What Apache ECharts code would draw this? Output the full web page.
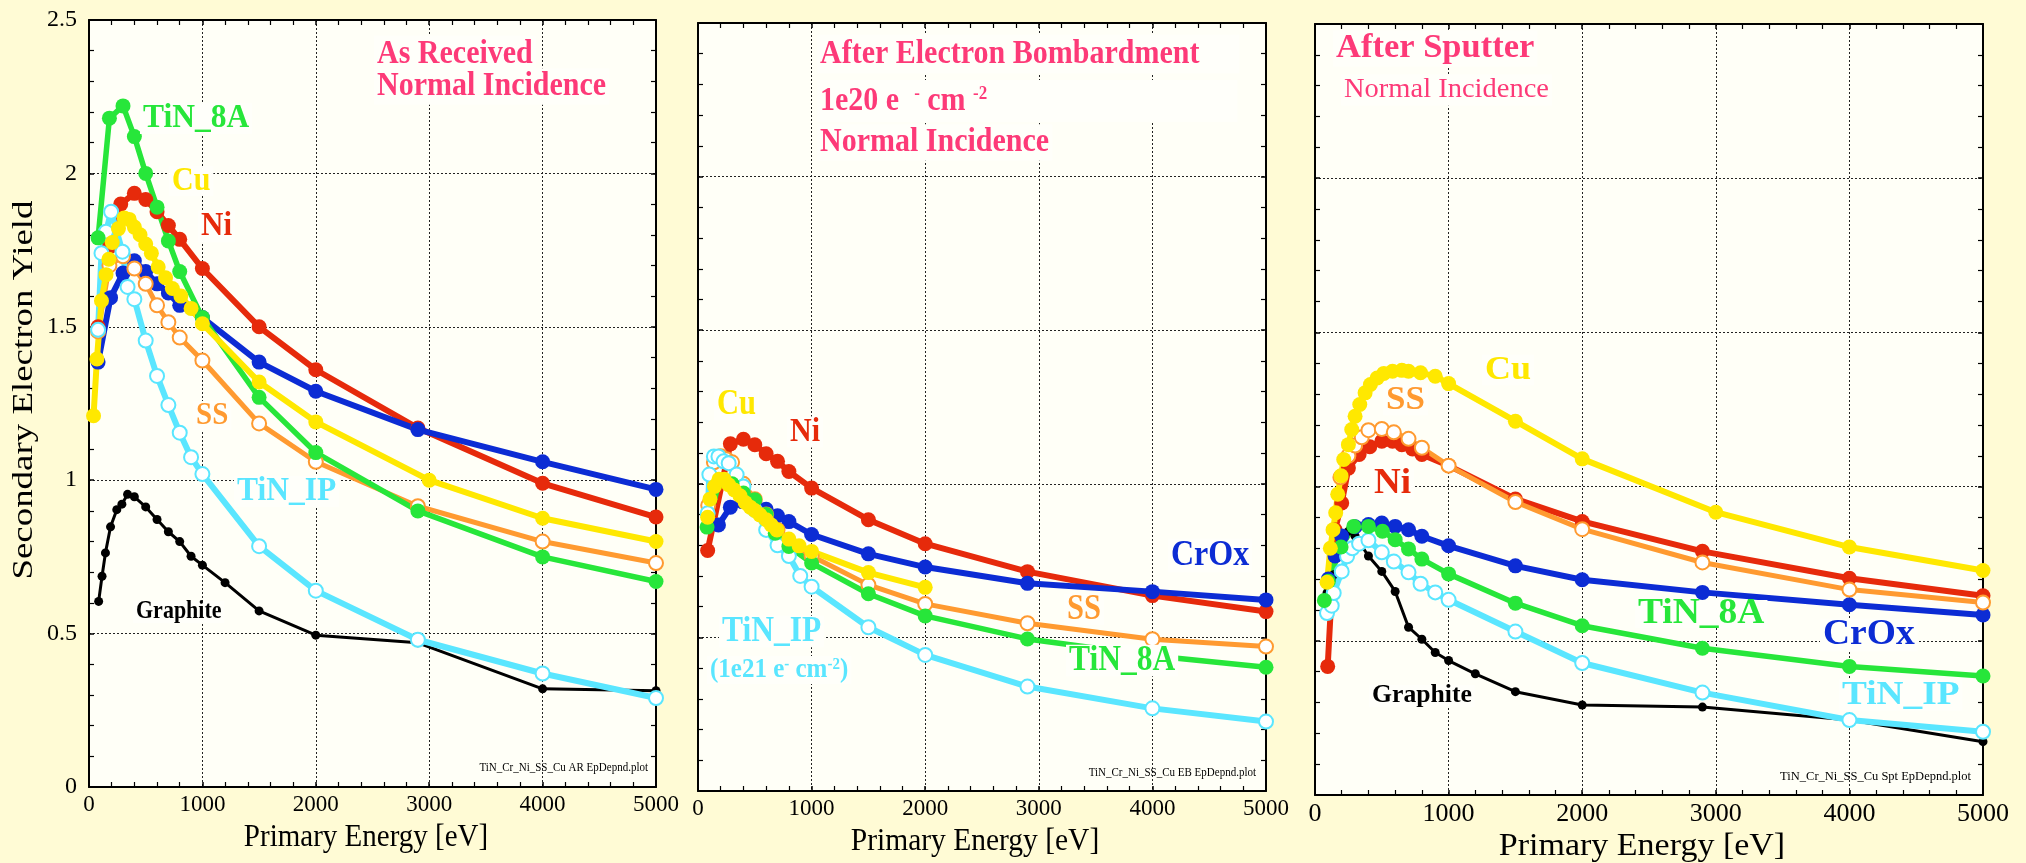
<!DOCTYPE html>
<html><head><meta charset="utf-8">
<script src="https://cdn.jsdelivr.net/npm/echarts@6/dist/echarts.min.js"></script>
<style>html,body{margin:0;padding:0;background:#fffbd5;}#c{width:2026px;height:863px;}</style>
</head><body><div id="c"></div>
<script>
// ---------- axis ticks ----------
const xTicks = [0, 1000, 2000, 3000, 4000, 5000];
const yTicks = [0, 0.5, 1, 1.5, 2, 2.5];

// ---------- Panel 1 : As Received ----------
const ar_TiN8A_E = [80,180,300,400,500,600,700,800,1000,1500,2000,2900,4000,5000];
const ar_TiN8A_Y = [1.79,2.18,2.22,2.12,2.00,1.89,1.78,1.68,1.53,1.27,1.09,0.90,0.75,0.67];
const ar_Ni_E = [80,180,280,400,500,600,700,800,1000,1500,2000,2900,4000,5000];
const ar_Ni_Y = [1.50,1.76,1.90,1.935,1.915,1.875,1.83,1.785,1.69,1.50,1.36,1.17,0.99,0.88];
const ar_Cu_E = [40,70,110,150,175,205,260,310,355,400,450,500,550,610,675,735,810,900,1000,1500,2000,3000,4000,5000];
const ar_Cu_Y = [1.21,1.395,1.585,1.67,1.72,1.775,1.82,1.855,1.85,1.825,1.80,1.77,1.74,1.695,1.66,1.625,1.60,1.56,1.51,1.32,1.19,1.00,0.876,0.80];
const ar_CrOx_E = [80,190,300,400,500,600,700,800,1000,1500,2000,2900,4000,5000];
const ar_CrOx_Y = [1.385,1.595,1.675,1.715,1.68,1.64,1.61,1.57,1.53,1.385,1.29,1.165,1.06,0.97];
const ar_SS_E = [80,180,300,400,500,600,700,800,1000,1500,2000,2900,4000,5000];
const ar_SS_Y = [1.485,1.70,1.73,1.69,1.64,1.57,1.515,1.465,1.39,1.185,1.06,0.915,0.80,0.73];
const ar_TiNIP_E = [80,110,150,195,295,340,400,500,600,700,800,900,1000,1500,2000,2900,4000,5000];
const ar_TiNIP_Y = [1.49,1.74,1.81,1.875,1.745,1.63,1.59,1.455,1.34,1.245,1.155,1.075,1.02,0.785,0.64,0.48,0.37,0.29];
const ar_Gr_E = [85,115,145,190,245,290,340,400,500,600,700,800,900,1000,1200,1500,2000,2900,4000,5000];
const ar_Gr_Y = [0.605,0.687,0.763,0.848,0.904,0.922,0.954,0.946,0.913,0.872,0.832,0.80,0.752,0.723,0.666,0.574,0.495,0.47,0.32,0.314];

// ---------- Panel 2 : After Electron Bombardment ----------
const eb_Ni_E = [85,285,400,500,600,700,800,1000,1500,2000,2900,4000,5000];
const eb_Ni_Y = [0.783,1.13,1.145,1.127,1.098,1.073,1.04,0.986,0.883,0.805,0.714,0.636,0.584];
const eb_CrOx_E = [180,285,390,500,600,700,800,1000,1500,2000,2900,4000,5000];
const eb_CrOx_Y = [0.866,0.924,0.942,0.939,0.917,0.896,0.877,0.835,0.772,0.729,0.676,0.649,0.622];
const eb_Cu_E = [85,105,145,185,230,270,320,370,415,460,500,545,600,645,695,800,890,1000,1500,2000];
const eb_Cu_Y = [0.891,0.95,0.991,1.015,1.015,0.997,0.98,0.961,0.939,0.924,0.913,0.899,0.883,0.866,0.85,0.82,0.798,0.78,0.711,0.663];
const eb_TiN8A_E = [80,190,300,400,500,600,680,800,1000,1500,2000,2900,4000,5000];
const eb_TiN8A_Y = [0.859,1.01,1.00,0.97,0.948,0.90,0.839,0.796,0.742,0.642,0.57,0.495,0.44,0.403];
const eb_SS_E = [90,140,200,250,300,400,500,600,700,800,1000,1500,2000,2900,4000,5000];
const eb_SS_Y = [0.93,1.07,1.09,1.08,1.07,1.00,0.95,0.90,0.85,0.81,0.765,0.671,0.609,0.546,0.494,0.47];
const eb_TiNIP_E = [85,100,140,180,225,270,340,400,500,600,700,800,900,1000,1500,2000,2900,4000,5000];
const eb_TiNIP_Y = [0.904,1.03,1.089,1.089,1.073,1.067,1.03,0.991,0.915,0.85,0.80,0.765,0.70,0.665,0.533,0.443,0.34,0.269,0.226];

// ---------- Panel 3 : After Sputter ----------
const sp_Cu_E = [90,115,135,155,170,195,215,250,275,300,335,375,415,465,515,580,650,700,790,900,1000,1500,2000,3000,4000,5000];
const sp_Cu_Y = [0.69,0.80,0.86,0.915,0.975,1.035,1.088,1.136,1.185,1.228,1.266,1.304,1.331,1.352,1.367,1.374,1.377,1.374,1.369,1.358,1.334,1.212,1.09,0.917,0.804,0.728];
const sp_Ni_E = [95,150,200,250,330,410,500,580,650,730,800,1000,1500,2000,2900,4000,5000];
const sp_Ni_Y = [0.417,0.86,0.947,1.06,1.104,1.129,1.147,1.147,1.136,1.122,1.104,1.068,0.96,0.887,0.79,0.703,0.646];
const sp_SS_E = [190,250,300,350,400,500,590,700,800,1000,1500,2000,2900,4000,5000];
const sp_SS_Y = [1.03,1.10,1.133,1.16,1.183,1.187,1.176,1.155,1.126,1.068,0.95,0.862,0.754,0.666,0.624];
const sp_CrOx_E = [100,150,200,300,400,500,600,700,800,1000,1500,2000,2900,4000,5000];
const sp_CrOx_Y = [0.70,0.775,0.84,0.87,0.877,0.882,0.871,0.86,0.839,0.808,0.743,0.698,0.657,0.617,0.584];
const sp_TiN8A_E = [70,100,195,290,400,505,600,700,800,1000,1500,2000,2900,4000,5000];
const sp_TiN8A_Y = [0.631,0.693,0.804,0.871,0.871,0.855,0.828,0.798,0.765,0.717,0.622,0.549,0.476,0.417,0.386];
const sp_TiNIP_E = [90,125,140,200,240,280,330,400,500,590,700,790,900,1000,1500,2000,2900,4000,5000];
const sp_TiNIP_Y = [0.59,0.614,0.655,0.725,0.774,0.80,0.815,0.826,0.787,0.757,0.722,0.685,0.657,0.633,0.53,0.428,0.332,0.243,0.205];
const sp_Gr_E = [90,140,155,200,250,300,400,500,600,700,800,900,1000,1200,1500,2000,2900,4000,5000];
const sp_Gr_Y = [0.655,0.714,0.776,0.837,0.855,0.84,0.775,0.725,0.66,0.544,0.505,0.462,0.436,0.393,0.335,0.292,0.285,0.243,0.173];

// ---------- styling ----------
const FONT = 'Liberation Serif';
const STY = {
  Graphite:{color:'#000000', lw:3, size:9, hollow:false},
  Ni:{color:'#e62a0b', lw:6, size:15, hollow:false},
  CrOx:{color:'#0c2cd4', lw:6, size:15, hollow:false},
  SS:{color:'#ff9a30', lw:5, size:14, hollow:true},
  TiN_IP:{color:'#5ae6ff', lw:6, size:14, hollow:true},
  TiN_8A:{color:'#27e63a', lw:5.5, size:15, hollow:false},
  Cu:{color:'#ffe800', lw:6, size:15, hollow:false}
};
const ORDER = ['Graphite','Ni','CrOx','SS','TiN_IP','TiN_8A','Cu'];

const panelData = [
  {Graphite:[ar_Gr_E,ar_Gr_Y], Ni:[ar_Ni_E,ar_Ni_Y], CrOx:[ar_CrOx_E,ar_CrOx_Y], SS:[ar_SS_E,ar_SS_Y], TiN_IP:[ar_TiNIP_E,ar_TiNIP_Y], TiN_8A:[ar_TiN8A_E,ar_TiN8A_Y], Cu:[ar_Cu_E,ar_Cu_Y]},
  {Ni:[eb_Ni_E,eb_Ni_Y], CrOx:[eb_CrOx_E,eb_CrOx_Y], SS:[eb_SS_E,eb_SS_Y], TiN_IP:[eb_TiNIP_E,eb_TiNIP_Y], TiN_8A:[eb_TiN8A_E,eb_TiN8A_Y], Cu:[eb_Cu_E,eb_Cu_Y]},
  {Graphite:[sp_Gr_E,sp_Gr_Y], Ni:[sp_Ni_E,sp_Ni_Y], CrOx:[sp_CrOx_E,sp_CrOx_Y], SS:[sp_SS_E,sp_SS_Y], TiN_IP:[sp_TiNIP_E,sp_TiNIP_Y], TiN_8A:[sp_TiN8A_E,sp_TiN8A_Y], Cu:[sp_Cu_E,sp_Cu_Y]}
];

const layout = [
  {left:89, top:20, width:567, height:767, yLab:true, xFont:23},
  {left:698, top:23, width:568, height:768, yLab:false, xFont:23},
  {left:1315, top:24, width:668, height:771, yLab:false, xFont:26}
];

const grids=[], xAxes=[], yAxes=[], series=[];
const tickStyle = {show:true, inside:true, length:5, lineStyle:{color:'#000', width:1.5}};
const minor = {show:true, splitNumber:5, length:5, lineStyle:{color:'#000', width:1.2}};
layout.forEach((L,gi)=>{
  grids.push({left:L.left, top:L.top, width:L.width, height:L.height, show:true, backgroundColor:'#fffff7', borderWidth:0, containLabel:false});
  const xBase = {type:'value', gridIndex:gi, min:xTicks[0], max:xTicks[xTicks.length-1], interval:xTicks[1]-xTicks[0],
    axisLine:{show:true, onZero:false, lineStyle:{color:'#000', width:2}}, axisTick:tickStyle, minorTick:minor};
  xAxes.push(Object.assign({}, xBase, {position:'bottom',
    axisLabel:{show:true, color:'#000', fontFamily:FONT, fontSize:L.xFont, margin:6, formatter:(v)=>String(v)},
    splitLine:{show:true, lineStyle:{color:'#222', width:1, type:[2,2]}}}));
  xAxes.push(Object.assign({}, xBase, {position:'top', axisLabel:{show:false}, splitLine:{show:false}}));
  const yBase = {type:'value', gridIndex:gi, min:yTicks[0], max:yTicks[yTicks.length-1], interval:yTicks[1]-yTicks[0],
    axisLine:{show:true, onZero:false, lineStyle:{color:'#000', width:2}}, axisTick:tickStyle, minorTick:minor};
  yAxes.push(Object.assign({}, yBase, {position:'left',
    axisLabel:{show:L.yLab, color:'#000', fontFamily:FONT, fontSize:24, margin:12, formatter:(v)=>String(v)},
    splitLine:{show:true, lineStyle:{color:'#222', width:1, type:[2,2]}}}));
  yAxes.push(Object.assign({}, yBase, {position:'right', axisLabel:{show:false}, splitLine:{show:false}}));
  ORDER.forEach(name=>{
    const d = panelData[gi][name];
    if(!d) return;
    const s = STY[name];
    series.push({
      type:'line', name:name+'_'+gi, xAxisIndex:gi*2, yAxisIndex:gi*2,
      data:d[0].map((e,i)=>[e,d[1][i]]),
      symbol:'circle', symbolSize:s.size, showSymbol:true, showAllSymbol:true,
      lineStyle:{color:s.color, width:s.lw},
      itemStyle: s.hollow ? {color:'#ffffff', borderColor:s.color, borderWidth:2} : {color:s.color, borderWidth:0},
      emphasis:{disabled:true}, silent:true, animation:false, clip:false
    });
  });
});

// ---------- texts ----------
const PINK = '#fd3a78';
function lab(x, y, text, color, size, o){
  o = o || {};
  return {type:'text', x:x, y:y, z:100, scaleX:o.sx||1, scaleY:o.sy||1, rotation:o.rot||0, silent:true,
    style:{text:text, fill:color, fontFamily:FONT, fontSize:size, fontWeight:o.w||'bold',
      lineHeight: o.lh || Math.round(size*0.9),
      align:o.align||'left', verticalAlign:'middle',
      backgroundColor:o.bg===undefined?'#fffffa':o.bg, padding:o.pad||[0,3], rich:o.rich}};
}
const graphics = [
  // axis titles
  lab(24, 390, 'Secondary Electron Yield', '#000', 30, {w:'normal', rot:Math.PI/2, sx:1.23, align:'center', bg:'transparent'}),
  lab(366, 838, 'Primary Energy [eV]', '#000', 29, {w:'normal', align:'center', sy:1.08, bg:'transparent'}),
  lab(975, 842, 'Primary Energy [eV]', '#000', 29.5, {w:'normal', align:'center', sy:1.08, bg:'transparent'}),
  lab(1642, 847, 'Primary Energy [eV]', '#000', 34, {w:'normal', align:'center', sy:0.92, bg:'transparent'}),
  // panel 1
  lab(374, 54, 'As Received', PINK, 30, {sy:1.1, pad:[3,3]}),
  lab(374, 86.5, 'Normal Incidence', PINK, 30, {sy:1.1, pad:[3,3]}),
  lab(140, 118.5, 'TiN_8A', STY.TiN_8A.color, 31.5, {sy:1.1}),
  lab(169, 181, 'Cu', STY.Cu.color, 30, {sy:1.12}),
  lab(198, 226.5, 'Ni', STY.Ni.color, 31, {sy:1.12}),
  lab(193, 415.5, 'SS', STY.SS.color, 29, {sy:1.12}),
  lab(234, 491.5, 'TiN_IP', STY.TiN_IP.color, 31.5, {sy:1.1}),
  lab(133, 612, 'Graphite', '#000', 22, {sy:1.1}),
  lab(651, 768, 'TiN_Cr_Ni_SS_Cu AR EpDepnd.plot', '#000', 11, {w:'normal', align:'right', sy:1.2, bg:'transparent'}),
  // panel 2
  lab(817, 54, 'After Electron Bombardment', PINK, 30, {sy:1.1, pad:[4,40,4,3]}),
  lab(817, 101, '{n|1e20 e  }{s|-}{n| cm }{s|-2}', PINK, 30, {sy:1.1, pad:[4,250,4,3], rich:{
      n:{fontFamily:FONT, fontSize:30, fontWeight:'bold', fill:PINK, lineHeight:30},
      s:{fontFamily:FONT, fontSize:17, fontWeight:'bold', fill:PINK, verticalAlign:'top'}}}),
  lab(817, 142.5, 'Normal Incidence', PINK, 30, {sy:1.1, pad:[3,3]}),
  lab(714, 405, 'Cu', STY.Cu.color, 30.5, {sy:1.15}),
  lab(787, 432, 'Ni', STY.Ni.color, 30, {sy:1.15}),
  lab(1168, 555.5, 'CrOx', STY.CrOx.color, 32, {sy:1.15}),
  lab(1064, 609.5, 'SS', STY.SS.color, 30.5, {sy:1.15}),
  lab(1066, 660.5, 'TiN_8A', STY.TiN_8A.color, 31.5, {sy:1.12}),
  lab(719, 631.5, 'TiN_IP', STY.TiN_IP.color, 31.5, {sy:1.12}),
  lab(707, 670, '{c|(1e21 e}{t|-}{c| cm}{t|-2}{c|)}', STY.TiN_IP.color, 25, {sy:1.12, rich:{
      c:{fontFamily:FONT, fontSize:25, fontWeight:'bold', fill:STY.TiN_IP.color, lineHeight:25},
      t:{fontFamily:FONT, fontSize:15, fontWeight:'bold', fill:STY.TiN_IP.color, verticalAlign:'top'}}}),
  lab(1259, 773, 'TiN_Cr_Ni_SS_Cu EB EpDepnd.plot', '#000', 11, {w:'normal', align:'right', sy:1.2, bg:'transparent'}),
  // panel 3
  lab(1333, 48.5, 'After Sputter', PINK, 34.5, {sy:0.98, pad:[3,3]}),
  lab(1341, 90, 'Normal Incidence', PINK, 28.5, {w:'normal', sy:0.98, pad:[3,3]}),
  lab(1482, 370, 'Cu', STY.Cu.color, 36, {sy:0.95}),
  lab(1383, 400, 'SS', STY.SS.color, 35, {sy:0.95}),
  lab(1371, 483.5, 'Ni', STY.Ni.color, 37, {sy:0.95}),
  lab(1635, 614, 'TiN_8A', STY.TiN_8A.color, 37.5, {sy:0.93, lh:30}),
  lab(1820, 635, 'CrOx', STY.CrOx.color, 37.5, {sy:0.95}),
  lab(1839, 695, 'TiN_IP', STY.TiN_IP.color, 37.3, {sy:0.93}),
  lab(1369, 696, 'Graphite', '#000', 25.7, {sy:0.95}),
  lab(1974, 777, 'TiN_Cr_Ni_SS_Cu Spt EpDepnd.plot', '#000', 12.5, {w:'normal', align:'right', sy:1.05, bg:'transparent'})
];

const chart = echarts.init(document.getElementById('c'), null, {renderer:'canvas', width:2026, height:863});
chart.setOption({
  animation:false,
  backgroundColor:'#fffbd5',
  grid:grids, xAxis:xAxes, yAxis:yAxes, series:series,
  graphic:{elements:graphics}
});
</script>
</body></html>
